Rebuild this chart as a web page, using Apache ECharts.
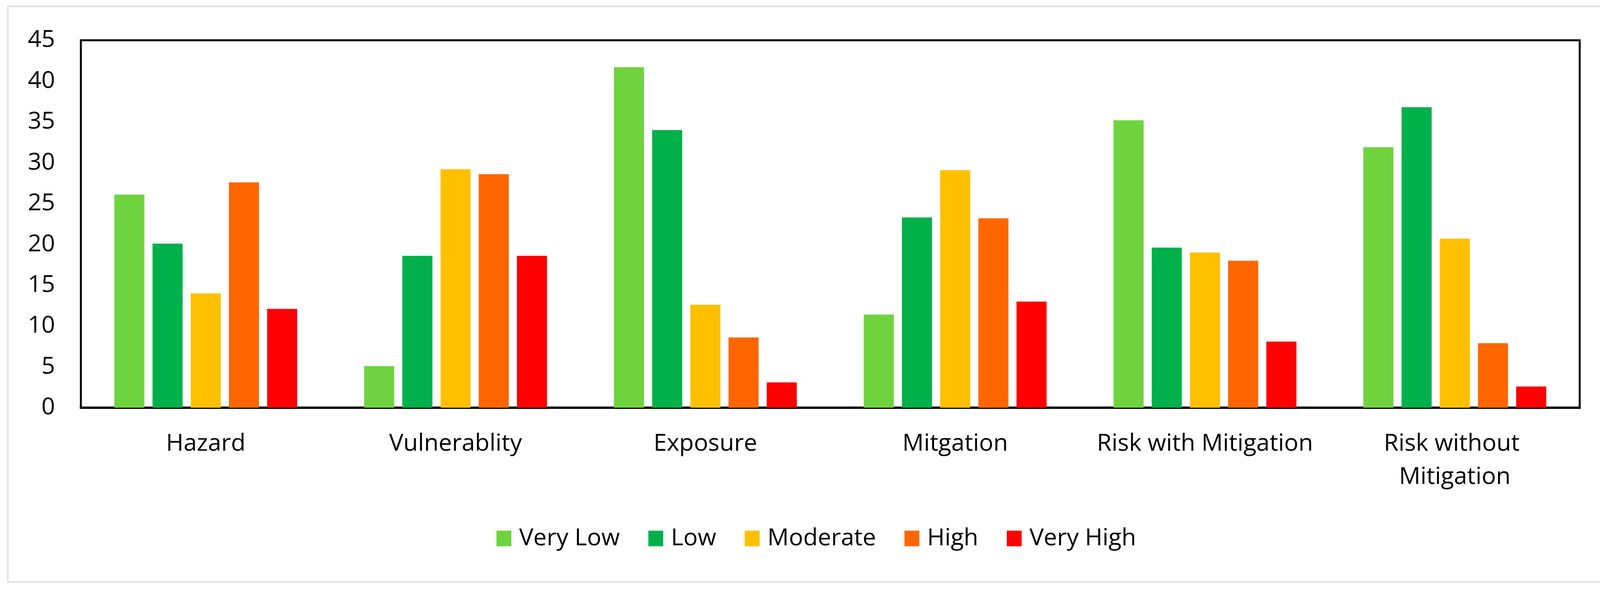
<!DOCTYPE html>
<html>
<head>
<meta charset="utf-8">
<script src="https://cdn.jsdelivr.net/npm/echarts@6/dist/echarts.min.js"></script>
<style>
html,body{margin:0;padding:0;background:#fff;}
#c{width:4150px;height:1517px;}
</style>
</head>
<body>
<div id="c"></div>
<script>
const categories = ['Hazard', 'Vulnerablity', 'Exposure', 'Mitgation', 'Risk with Mitigation', 'Risk without Mitigation'];
const seriesNames = ['Very Low', 'Low', 'Moderate', 'High', 'Very High'];
const veryLow  = [26.1, 5.1, 41.7, 11.4, 35.2, 31.9];
const low      = [20.1, 18.6, 34.0, 23.3, 19.6, 36.8];
const moderate = [14.0, 29.2, 12.6, 29.1, 19.0, 20.7];
const high     = [27.6, 28.6, 8.6, 23.2, 18.0, 7.9];
const veryHigh = [12.1, 18.6, 3.1, 13.0, 8.1, 2.6];
const yTicks = { min: 0, max: 45, interval: 5 };
const colors = ['#6fd33f', '#00b04a', '#ffc000', '#ff6600', '#ff0000'];

const font = '"Open Sans", "Liberation Sans", sans-serif';
const chart = echarts.init(document.getElementById('c'));
const seriesData = [veryLow, low, moderate, high, veryHigh];

chart.setOption({
  animation: false,
  backgroundColor: '#fff',
  graphic: [{
    type: 'rect',
    shape: { x: 20, y: 16, width: 4112, height: 1473 },
    style: { fill: 'none', stroke: '#e2e2e2', lineWidth: 4 },
    silent: true
  }],
  grid: {
    left: 207, right: 106, top: 103, bottom: 474,
    show: true, borderColor: '#000', borderWidth: 5, backgroundColor: 'transparent'
  },
  legend: {
    data: seriesNames,
    left: 1266,
    top: 1342,
    itemWidth: 38,
    itemHeight: 40,
    itemGap: 73,
    icon: 'rect',
    textStyle: { fontFamily: font, fontSize: 61, lineHeight: 40, color: '#000', padding: [0, 0, 0, 15] }
  },
  xAxis: {
    type: 'category',
    data: categories,
    axisLine: { show: true, lineStyle: { color: '#000', width: 6 } },
    axisTick: { show: false },
    axisLabel: {
      fontFamily: font, fontSize: 61, color: '#000',
      margin: 50, lineHeight: 85, interval: 0,
      width: 615, overflow: 'break'
    }
  },
  yAxis: {
    type: 'value',
    min: yTicks.min, max: yTicks.max, interval: yTicks.interval,
    splitLine: { show: false },
    axisLine: { show: false },
    axisTick: { show: false },
    axisLabel: { fontFamily: font, fontSize: 61, color: '#000', margin: 66 }
  },
  series: seriesNames.map((n, i) => ({
    name: n,
    type: 'bar',
    data: seriesData[i],
    barWidth: 77,
    barGap: '27%',
    itemStyle: { color: colors[i] }
  }))
});
</script>
</body>
</html>
